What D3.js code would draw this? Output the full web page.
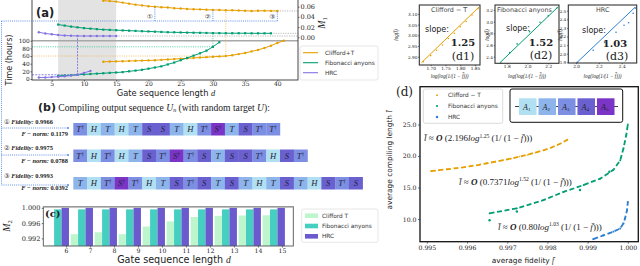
<!DOCTYPE html>
<html>
<head>
<meta charset="utf-8">
<script src="https://cdn.jsdelivr.net/npm/d3@7/dist/d3.min.js"></script>
<style>
  body { margin: 0; background: #fff; }
  svg { display: block; }
</style>
</head>
<body>
<div id="wrapper"></div>
<script>
// ---------------- data ----------------
// (a) M1 and compile time vs gate sequence length
const cliffordLen = d3.range(13, 42);
const cliffordTime = [45, 45.5, 46, 46.5, 47, 47.5, 48, 48.5, 49, 50, 51, 52, 53, 54, 55, 56, 57, 58, 59, 60, 62, 65, 68, 72, 76, 81, 87, 94, 100];
const cliffordM1Len = d3.range(13, 41);
const cliffordM1 = [0.0718, 0.071, 0.070, 0.068, 0.066, 0.064, 0.0625, 0.061, 0.060, 0.059, 0.0585, 0.057, 0.0565, 0.0555, 0.055, 0.0548, 0.054, 0.0537, 0.0535, 0.053, 0.053, 0.0525, 0.052, 0.0515, 0.052, 0.052, 0.0518, 0.0516];

const fibLen = d3.range(6, 32);
const fibTime = [8, 9, 10, 11, 12, 13, 14, 15, 16, 17, 18, 20, 22, 24, 27, 30, 33, 38, 43, 49, 55, 61, 67, 74, 84, 96];
const fibM1Len = d3.range(6, 40);
const fibM1 = [0.025, 0.023, 0.021, 0.0195, 0.018, 0.017, 0.016, 0.015, 0.0145, 0.014, 0.0135, 0.013, 0.0125, 0.012, 0.0115, 0.011, 0.0105, 0.010, 0.0098, 0.0095, 0.0092, 0.009, 0.0088, 0.0085, 0.0083, 0.0082, 0.008, 0.008, 0.008, 0.008, 0.0078, 0.0078, 0.0078, 0.0078];

const hrcLen = d3.range(3, 12);
const hrcTime = [4, 4, 5, 6, 7, 9, 11, 16, 21];
const hrcM1Len = d3.range(3, 16);
const hrcM1 = [0.0098, 0.0075, 0.006, 0.0045, 0.0035, 0.003, 0.0027, 0.0025, 0.0025, 0.0025, 0.0025, 0.0025, 0.0025];

const timeTicks = [0, 20, 40, 60, 80, 100];
const m1Ticks = [0, 0.02, 0.04, 0.06];
const lenTicksA = [5, 10, 15, 20, 25, 30, 35, 40];
const sampleLen = [21, 30, 40];
const sampleMark = ["\u2460", "\u2461", "\u2462"];

// (b) compiled gate sequences
const seq1 = ["T†", "H", "T", "H", "T", "S", "S", "T", "H", "T†", "S†", "T", "S", "T†", "T†"];
const seq2 = ["T†", "H", "T†", "H", "T", "S", "T†", "S†", "T†", "S", "T", "S", "S", "T†", "H", "S", "T†"];
const seq3 = ["T", "H", "T†", "S†", "T†", "H", "T", "S", "T†", "S", "T", "S", "T", "H", "T", "S", "T", "H", "S", "T†", "S"];
const fidelity = ["0.9966", "0.9975", "0.9993"];
const fnorm = ["0.1179", "0.0788", "0.0392"];

// (c) M2 per gate sequence length
const lenC = [6, 7, 8, 9, 10, 11, 12, 13, 14, 15];
const cliffordM2 = [0.9902, 0.9931, 0.9936, 0.9931, 0.9951, 0.99645, 0.9976, 0.9979, 0.998, 0.99805];
const fibM2 = [0.9996, 0.9996, 0.9996, 0.9996, 0.9996, 0.9996, 0.9996, 0.9996, 0.9996, 0.9996];
const hrcM2 = [1.0, 1.0, 1.0, 1.0, 1.0, 1.0, 1.0, 1.0, 1.0, 1.0];
const m2Ticks = [0.992, 0.996, 1.0];

// (d) average compiling length vs average fidelity
const cliffordF = [0.9951, 0.9953, 0.9955, 0.9957, 0.9959, 0.9961, 0.9963, 0.9965, 0.9967, 0.9969, 0.9971, 0.9973, 0.9975, 0.9977, 0.9979, 0.9981, 0.9983, 0.9985];
const cliffordL = [17.6, 17.75, 17.9, 18.05, 18.2, 18.4, 18.6, 18.85, 19.1, 19.35, 19.6, 19.9, 20.2, 20.55, 20.9, 21.35, 21.9, 22.6];
const fibF = [0.99656, 0.99724, 0.9979, 0.9984, 0.9989, 0.99931, 0.99964, 0.99981, 0.99989, 0.99996, 1.0];
const fibL = [10.9, 11.7, 13.0, 14.3, 15.4, 16.4, 17.8, 19.3, 21.2, 23.3, 25.0];
const fibDotF = [0.99656, 0.99724, 0.99881, 0.99954];
const fibDotL = [9.8, 11.2, 14.6, 17.5];
const hrcF = [0.99914, 0.99939, 0.99964, 0.99981, 0.99989, 0.99993, 0.99998, 1.0];
const hrcL = [6.8, 7.4, 8.0, 8.5, 9.3, 10.1, 11.4, 12.7];
const fidTicks = [0.995, 0.996, 0.997, 0.998, 0.999, 1.0];
const lenTicksD = [10, 15, 20, 25];
const gateLabels = ["A", "A", "A", "A", "A"];

// (d1)-(d3) log-log fits
const d1X = [1.675, 1.70, 1.72, 1.74, 1.76, 1.78, 1.80, 1.82, 1.84, 1.86];
const d1Y = [2.876, 2.905, 2.93, 2.955, 2.985, 3.01, 3.04, 3.065, 3.095, 3.125];
const d1Fit = [[1.669, 2.872], [1.864, 3.133]];
const d2X = [1.745, 1.83, 1.90, 2.02, 2.12, 2.20, 2.28];
const d2Y = [2.29, 2.47, 2.62, 2.83, 2.99, 3.10, 3.23];
const d2Fit = [[1.736, 2.30], [2.296, 3.257]];
const d3X = [2.01, 2.15, 2.25, 2.35, 2.42, 2.46, 2.50, 2.52];
const d3Y = [1.90, 2.04, 2.13, 2.25, 2.33, 2.36, 2.47, 2.53];
const d3Fit = [[2.006, 1.895], [2.517, 2.54]];

// ---------------- styles ----------------
const C = {
  orange: "#e69f00", green: "#009e73", purple: "#8273e3", blue: "#2d7fd1",
  link: "#4f86e6", cLight: "#bdf5cd", cTeal: "#45cfc1", cSlate: "#6a5acd"
};
const gateColor = { "H": "#b0e0f2", "T": "#8db5ec", "T†": "#7c8fe2", "S": "#6a60d0", "S†": "#7a34c6" };
const gateColorList = ["#b0e0f2", "#8db5ec", "#7c8fe2", "#6a60d0", "#7a34c6"];
const SANS = "'DejaVu Sans', sans-serif";
const SERIF = "'DejaVu Serif', serif";
const TIMES = "'Liberation Serif', serif";

const svg = d3.select("#wrapper").append("svg")
  .attr("width", 640).attr("height", 266)
  .attr("font-family", SERIF);

function styleAxis(g, size) {
  g.select(".domain").remove();
  g.selectAll(".tick line").attr("stroke", "#333").attr("stroke-width", 0.7);
  g.selectAll(".tick text").attr("font-family", SERIF).attr("font-size", size).attr("fill", "#222");
}

function marker(g, type, x, y, color, s) {
  if (type === "square") {
    g.append("rect").attr("x", x - s).attr("y", y - s).attr("width", 2 * s).attr("height", 2 * s).attr("fill", color);
  } else if (type === "triangle") {
    g.append("path").attr("d", `M${x},${y - s * 1.2}L${x + s},${y + s * 0.8}L${x - s},${y + s * 0.8}Z`).attr("fill", color);
  } else {
    g.append("circle").attr("cx", x).attr("cy", y).attr("r", s).attr("fill", color);
  }
}

// ---------------- panel (a) ----------------
const aBox = { left: 32, right: 298, top: -2, bottom: 80 };
const xA = d3.scaleLinear().domain([1.94, 43.2]).range([aBox.left, aBox.right]);
const yTime = d3.scaleLinear().domain([0, 100]).range([79, 40.7]);
const yM1 = d3.scaleLinear().domain([0, 0.06]).range([37.3, 6.7]);

const gA = svg.append("g");
gA.append("rect").attr("x", xA(6)).attr("y", aBox.top)
  .attr("width", xA(15) - xA(6)).attr("height", aBox.bottom - aBox.top)
  .attr("fill", "#e3e3e3");
gA.append("line").attr("x1", aBox.left).attr("x2", aBox.right)
  .attr("y1", yTime(100)).attr("y2", yTime(100))
  .attr("stroke", "#a8a8a8").attr("stroke-width", 1.6);

const seriesA = [
  { name: "Clifford+T", color: C.orange, len: cliffordLen, time: cliffordTime, m1Len: cliffordM1Len, m1: cliffordM1, pick: 32, mk: "circle", refColor: "#f2b54e", dash: "1,1.3" },
  { name: "Fibonacci anyons", color: C.green, len: fibLen, time: fibTime, m1Len: fibM1Len, m1: fibM1, pick: 30, mk: "square", refColor: "#2cc08d", dash: "1,1.3" },
  { name: "HRC", color: C.purple, len: hrcLen, time: hrcTime, m1Len: hrcM1Len, m1: hrcM1, pick: 9, mk: "circle", refColor: "#6f62de", dash: "2,1.2" }
];

seriesA.forEach(s => {
  const lastM = s.m1[s.m1.length - 1];
  const lastL = s.m1Len[s.m1Len.length - 1];
  gA.append("line").attr("x1", xA(lastL)).attr("x2", aBox.right)
    .attr("y1", yM1(lastM)).attr("y2", yM1(lastM))
    .attr("stroke", "#9a9a9a").attr("stroke-width", 0.7).attr("stroke-dasharray", "1.2,1.2");
  const tPick = s.time[s.len.indexOf(s.pick)];
  const mPick = s.m1[s.m1Len.indexOf(s.pick)];
  gA.append("path")
    .attr("d", `M${aBox.left},${yTime(tPick)}H${xA(s.pick)}V${yM1(mPick)}`)
    .attr("fill", "none").attr("stroke", s.refColor).attr("stroke-width", 0.8)
    .attr("stroke-dasharray", s.dash);
});

// blue dotted links to panel (b)
const linkPath = d3.path();
linkPath.moveTo(1.5, 21); linkPath.lineTo(xA(40), 21);
sampleLen.forEach(d => {
  linkPath.moveTo(xA(d), 21);
  linkPath.lineTo(xA(d), yM1(cliffordM1[cliffordM1Len.indexOf(d)]));
});
linkPath.moveTo(1.5, 21); linkPath.lineTo(1.5, 185);
[128, 155, 185].forEach(y => { linkPath.moveTo(1.5, y); linkPath.lineTo(67, y); });
svg.append("path").attr("d", linkPath.toString()).attr("fill", "none")
  .attr("stroke", C.link).attr("stroke-width", 0.9).attr("stroke-dasharray", "1,1.1");
[128, 155, 185].forEach(y => svg.append("circle").attr("cx", 68).attr("cy", y).attr("r", 1).attr("fill", C.link));
sampleLen.forEach((d, i) => {
  gA.append("text").attr("x", xA(d) - 5).attr("y", 19.2).attr("text-anchor", "middle")
    .attr("font-family", SANS).attr("font-size", 6.8).attr("fill", "#333").text(sampleMark[i]);
});

seriesA.forEach(s => {
  const tPts = s.len.map((d, i) => [d, s.time[i]]);
  const mPts = s.m1Len.map((d, i) => [d, s.m1[i]]);
  gA.append("path").datum(tPts).attr("fill", "none").attr("stroke", s.color).attr("stroke-width", 1)
    .attr("d", d3.line().x(d => xA(d[0])).y(d => yTime(d[1])));
  gA.append("path").datum(mPts).attr("fill", "none").attr("stroke", s.color).attr("stroke-width", 1)
    .attr("d", d3.line().x(d => xA(d[0])).y(d => yM1(d[1])));
  tPts.forEach(p => marker(gA, s.mk, xA(p[0]), yTime(p[1]), s.color, s.mk === "square" ? 1.1 : 1.2));
  mPts.forEach(p => marker(gA, s.mk, xA(p[0]), yM1(p[1]), s.color, s.mk === "square" ? 1.1 : 1.2));
});

gA.append("rect").attr("x", aBox.left).attr("y", aBox.top)
  .attr("width", aBox.right - aBox.left).attr("height", aBox.bottom - aBox.top)
  .attr("fill", "none").attr("stroke", "#333").attr("stroke-width", 0.9);

gA.append("g").attr("transform", `translate(0,${aBox.bottom})`)
  .call(d3.axisBottom(xA).tickValues(lenTicksA).tickSize(1.5).tickPadding(0.5))
  .call(styleAxis, 6);
gA.append("g").attr("transform", `translate(${aBox.left},0)`)
  .call(d3.axisLeft(yTime).tickValues(timeTicks).tickSize(1.5).tickPadding(0.8))
  .call(styleAxis, 5.8);
gA.append("g").attr("transform", `translate(${aBox.right},0)`)
  .call(d3.axisRight(yM1).tickValues(m1Ticks).tickFormat(d3.format(".2f")).tickSize(1.5).tickPadding(1))
  .call(styleAxis, 6.5);

gA.append("text").attr("x", 36).attr("y", 16.5).attr("font-family", SANS).attr("font-size", 11.5)
  .attr("font-weight", "bold").attr("fill", "#222").text("(a)");
const m1Lab = gA.append("text").attr("transform", "translate(325,23) rotate(-90)")
  .attr("text-anchor", "middle").attr("font-family", TIMES).attr("font-size", 10).attr("fill", "#222");
m1Lab.append("tspan").attr("font-style", "italic").text("M");
m1Lab.append("tspan").attr("font-size", 6.5).attr("dy", 2).text("1");
gA.append("text").attr("transform", "translate(12,60) rotate(-90)").attr("text-anchor", "middle")
  .attr("font-family", SANS).attr("font-size", 8).attr("fill", "#222").text("Time (hours)");
const xLabA = gA.append("text").attr("x", 166).attr("y", 95.5).attr("text-anchor", "middle")
  .attr("font-family", SANS).attr("font-size", 8.3).attr("fill", "#222");
xLabA.append("tspan").text("Gate sequence length ");
xLabA.append("tspan").attr("font-family", TIMES).attr("font-style", "italic").text("d");

// legend (a)
const legA = svg.append("g");
legA.append("rect").attr("x", 300).attr("y", 46).attr("width", 78).attr("height", 34).attr("rx", 2)
  .attr("fill", "#fff").attr("stroke", "#ddd").attr("stroke-width", 0.7);
seriesA.forEach((s, i) => {
  const y = 52.7 + i * 10;
  legA.append("line").attr("x1", 303).attr("x2", 318).attr("y1", y).attr("y2", y).attr("stroke", s.color).attr("stroke-width", 1.1);
  legA.append("text").attr("x", 325).attr("y", y + 2).attr("font-family", SANS).attr("font-size", 5.8).attr("fill", "#333").text(s.name);
});

// ---------------- panel (b) ----------------
const gB = svg.append("g");
const titleB = gB.append("text").attr("x", 38).attr("y", 110.5).attr("fill", "#222");
titleB.append("tspan").attr("font-family", SANS).attr("font-size", 11).attr("font-weight", "bold").text("(b)");
titleB.append("tspan").attr("font-family", TIMES).attr("font-size", 9.6).text(" Compiling output sequence ");
titleB.append("tspan").attr("font-family", TIMES).attr("font-size", 9.6).attr("font-style", "italic").text("U");
titleB.append("tspan").attr("font-family", TIMES).attr("font-size", 6).attr("font-style", "italic").attr("dy", 1.5).text("n");
titleB.append("tspan").attr("font-family", TIMES).attr("font-size", 9.6).attr("dy", -1.5).text(" (with random target ");
titleB.append("tspan").attr("font-family", TIMES).attr("font-size", 9.6).attr("font-style", "italic").text("U");
titleB.append("tspan").attr("font-family", TIMES).attr("font-size", 9.6).text("):");

const xGate = d3.scaleBand().domain(d3.range(21)).range([73.3, 362.7]);
const gateRowTop = [123, 149.5, 177];
const gateH = 12.5;
[seq1, seq2, seq3].forEach((seq, r) => {
  const row = gB.append("g");
  row.selectAll("rect").data(seq).join("rect")
    .attr("x", (d, i) => xGate(i)).attr("y", gateRowTop[r])
    .attr("width", xGate.bandwidth() + 0.2).attr("height", gateH)
    .attr("fill", d => gateColor[d]);
  seq.forEach((g, i) => {
    const t = row.append("text").attr("x", xGate(i) + xGate.bandwidth() / 2).attr("y", gateRowTop[r] + 9.2)
      .attr("text-anchor", "middle").attr("font-family", TIMES).attr("font-size", 8.6).attr("fill", "#24243a");
    t.append("tspan").attr("font-style", "italic").text(g[0]);
    if (g.length > 1) t.append("tspan").attr("font-size", 5.8).attr("dy", -3).text("†");
  });

  const fy = gateRowTop[r] + 0.5;
  const f = gB.append("text").attr("x", 4).attr("y", fy).attr("font-size", 6.4).attr("fill", "#222");
  f.append("tspan").attr("font-family", SANS).text(sampleMark[r]);
  f.append("tspan").attr("font-family", TIMES).attr("font-style", "italic").attr("font-weight", "bold").text(" Fidelity:");
  f.append("tspan").attr("font-family", TIMES).attr("font-weight", "bold").text(" " + fidelity[r]);
  const n = gB.append("text").attr("x", 68).attr("y", gateRowTop[r] + 13).attr("text-anchor", "end")
    .attr("font-size", 6.4).attr("fill", "#222").attr("font-family", TIMES).attr("font-weight", "bold");
  n.append("tspan").attr("font-style", "italic").text("F \u2212 norm:");
  n.append("tspan").text(" " + fnorm[r]);
});

// ---------------- panel (c) ----------------
const cBox = { left: 43.3, right: 293.3, top: 206.7, bottom: 246 };
const xC = d3.scaleLinear().domain([5.05, 15.47]).range([cBox.left, cBox.right]);
const yC = d3.scaleLinear().domain([0.990, 1.0003]).range([cBox.bottom, cBox.top]);
const gC = svg.append("g");
const barW = 0.31;
const seriesC = [
  { name: "Clifford   T", vals: cliffordM2, color: C.cLight, off: -0.81 },
  { name: "Fibonacci anyons", vals: fibM2, color: C.cTeal, off: -0.5 },
  { name: "HRC", vals: hrcM2, color: C.cSlate, off: -0.19 }
];
seriesC.forEach(s => {
  gC.selectAll(null).data(lenC).join("rect")
    .attr("x", (d) => xC(d + s.off))
    .attr("width", xC(barW) - xC(0))
    .attr("y", (d, i) => yC(s.vals[i]))
    .attr("height", (d, i) => cBox.bottom - yC(s.vals[i]))
    .attr("fill", s.color);
});
gC.append("rect").attr("x", cBox.left).attr("y", cBox.top)
  .attr("width", cBox.right - cBox.left).attr("height", cBox.bottom - cBox.top)
  .attr("fill", "none").attr("stroke", "#555").attr("stroke-width", 0.9);
gC.append("line").attr("x1", cBox.left).attr("x2", cBox.right).attr("y1", cBox.top).attr("y2", cBox.top)
  .attr("stroke", "#999").attr("stroke-width", 1.4);
gC.append("g").attr("transform", `translate(0,${cBox.bottom})`)
  .call(d3.axisBottom(xC).tickValues(lenC).tickSize(1.5).tickPadding(0.8))
  .call(styleAxis, 6.2);
gC.append("g").attr("transform", `translate(${cBox.left},0)`)
  .call(d3.axisLeft(yC).tickValues(m2Ticks).tickFormat(d3.format(".3f")).tickSize(1.5).tickPadding(1.5))
  .call(styleAxis, 6.5);
gC.append("text").attr("x", 45).attr("y", 217).attr("font-size", 10).attr("font-weight", "bold").attr("fill", "#222").text("(c)");
const m2Lab = gC.append("text").attr("transform", "translate(10,226) rotate(-90)")
  .attr("text-anchor", "middle").attr("font-family", TIMES).attr("font-size", 10).attr("fill", "#222");
m2Lab.append("tspan").attr("font-style", "italic").text("M");
m2Lab.append("tspan").attr("font-size", 6.5).attr("dy", 2).text("2");
const xLabC = gC.append("text").attr("x", 174).attr("y", 262.5).attr("text-anchor", "middle")
  .attr("font-family", SANS).attr("font-size", 9.6).attr("fill", "#222");
xLabC.append("tspan").text("Gate sequence length ");
xLabC.append("tspan").attr("font-family", TIMES).attr("font-style", "italic").text("d");

const legC = svg.append("g");
legC.append("rect").attr("x", 301.7).attr("y", 209).attr("width", 76.3).attr("height", 33.3).attr("rx", 2)
  .attr("fill", "#fff").attr("stroke", "#ddd").attr("stroke-width", 0.7);
seriesC.forEach((s, i) => {
  const y = 215.7 + i * 10.3;
  legC.append("rect").attr("x", 305).attr("y", y - 2.3).attr("width", 13).attr("height", 4.6).attr("fill", s.color);
  legC.append("text").attr("x", 322).attr("y", y + 2).attr("font-family", SANS).attr("font-size", 5.8).attr("fill", "#333").text(s.name);
});

// ---------------- panel (d) ----------------
const dBox = { left: 420, right: 638.3, top: 86.7, bottom: 241.7 };
const xD = d3.scaleLinear().domain([0.99483, 1.00026]).range([dBox.left, dBox.right]);
const yD = d3.scaleLinear().domain([6.4, 31]).range([dBox.bottom, dBox.top]);
const gD = svg.append("g");
const lineD = d3.line().x(d => xD(d[0])).y(d => yD(d[1]));

const seriesD = [
  { name: "Clifford \u2212 T", f: cliffordF, l: cliffordL, color: C.orange, mk: "triangle" },
  { name: "Fibonacci anyons", f: fibF, l: fibL, color: C.green, mk: "circle" },
  { name: "HRC", f: hrcF, l: hrcL, color: C.blue, mk: "square" }
];
seriesD.forEach(s => {
  const pts = s.f.map((f, i) => [f, s.l[i]]);
  gD.append("path").datum(pts).attr("d", lineD).attr("fill", "none")
    .attr("stroke", s.color).attr("stroke-width", 1.8).attr("stroke-dasharray", "5,2.6");
  pts.forEach(p => marker(gD, s.mk, xD(p[0]), yD(p[1]), s.color, 0.9));
});
fibDotF.forEach((f, i) => marker(gD, "circle", xD(f), yD(fibDotL[i]), C.green, 1.2));

gD.append("rect").attr("x", dBox.left).attr("y", dBox.top)
  .attr("width", dBox.right - dBox.left).attr("height", dBox.bottom - dBox.top)
  .attr("fill", "none").attr("stroke", "#111").attr("stroke-width", 1.3);
gD.append("g").attr("transform", `translate(0,${dBox.bottom})`)
  .call(d3.axisBottom(xD).tickValues(fidTicks).tickFormat(d3.format(".3f")).tickSize(2).tickPadding(1.5))
  .call(styleAxis, 6.2);
gD.append("g").attr("transform", `translate(${dBox.left},0)`)
  .call(d3.axisLeft(yD).tickValues(lenTicksD).tickFormat(d3.format(".1f")).tickSize(2).tickPadding(1.5))
  .call(styleAxis, 6.2);

gD.append("text").attr("x", 396).attr("y", 96).attr("font-size", 12).attr("fill", "#222").text("(d)");
const yLabD = gD.append("text").attr("transform", "translate(392,160) rotate(-90)").attr("text-anchor", "middle")
  .attr("font-family", SANS).attr("font-size", 7.4).attr("fill", "#222");
yLabD.append("tspan").text("average compiling length ");
yLabD.append("tspan").attr("font-family", TIMES).attr("font-style", "italic").text("l\u0304");
const xLabD = gD.append("text").attr("x", 523).attr("y", 263).attr("text-anchor", "middle")
  .attr("font-family", SANS).attr("font-size", 7.4).attr("fill", "#222");
xLabD.append("tspan").text("average fidelity ");
xLabD.append("tspan").attr("font-family", TIMES).attr("font-style", "italic").text("f\u0304");

// formula annotations
function formula(x, y, coef, pw) {
  const t = gD.append("text").attr("x", x).attr("y", y).attr("font-family", TIMES).attr("font-size", 9).attr("fill", "#222");
  t.append("tspan").attr("font-style", "italic").text("l\u0304");
  t.append("tspan").text(" \u2248 ");
  t.append("tspan").attr("font-style", "italic").attr("font-weight", "bold").text("O");
  t.append("tspan").text(" (" + coef);
  t.append("tspan").attr("font-style", "italic").text("log");
  t.append("tspan").attr("font-size", 5.6).attr("dy", -3.4).text(pw);
  t.append("tspan").attr("dy", 3.4).text(" (1/ (1 \u2212 ");
  t.append("tspan").attr("font-style", "italic").text("f\u0304");
  t.append("tspan").text(")))");
}
formula(424, 141, "2.196", "1.25");
formula(459, 184.5, "0.7371", "1.52");
formula(498, 229.5, "0.80", "1.03");

// legend (d)
const legD = svg.append("g");
legD.append("rect").attr("x", 423.3).attr("y", 89).attr("width", 79.4).attr("height", 34.3).attr("rx", 2)
  .attr("fill", "#fff").attr("stroke", "#ccc").attr("stroke-width", 0.7);
seriesD.forEach((s, i) => {
  const y = 95 + i * 11;
  marker(legD, s.mk, 437, y, s.color, 1.1);
  legD.append("text").attr("x", 448).attr("y", y + 2).attr("font-family", SANS).attr("font-size", 5.8).attr("fill", "#333").text(s.name);
});

// circuit legend
const gCirc = svg.append("g");
gCirc.append("rect").attr("x", 510).attr("y", 89).attr("width", 112.7).attr("height", 33.3).attr("rx", 2)
  .attr("fill", "#fff").attr("stroke", "#111").attr("stroke-width", 1);
gCirc.append("line").attr("x1", 515).attr("x2", 618).attr("y1", 106.5).attr("y2", 106.5).attr("stroke", "#111").attr("stroke-width", 0.8);
const xA5 = d3.scaleBand().domain(d3.range(5)).range([519, 614.5]).paddingInner(0.1);
gCirc.selectAll("rect.g").data(gateLabels).join("rect").attr("class", "g")
  .attr("x", (d, i) => xA5(i)).attr("y", 98.3).attr("width", xA5.bandwidth()).attr("height", 16.7)
  .attr("fill", (d, i) => gateColorList[i]);
gateLabels.forEach((d, i) => {
  const t = gCirc.append("text").attr("x", xA5(i) + xA5.bandwidth() / 2 - 1).attr("y", 109.5)
    .attr("text-anchor", "middle").attr("font-family", TIMES).attr("font-size", 8).attr("fill", "#222");
  t.append("tspan").attr("font-style", "italic").text(d);
  t.append("tspan").attr("font-size", 5).attr("dy", 1.5).text(String(i + 1));
});

// ---------------- insets (d1)-(d3) ----------------
function drawInset(c) {
  const g = svg.append("g");
  const x = d3.scaleLinear().domain(c.xDom).range([c.x0, c.x1]);
  const y = d3.scaleLinear().domain(c.yDom).range([c.y1, c.y0]);
  g.append("path").datum(c.fit).attr("fill", "none").attr("stroke", c.color).attr("stroke-width", 1)
    .attr("d", d3.line().x(d => x(d[0])).y(d => y(d[1])));
  c.px.forEach((v, i) => g.append("circle").attr("cx", x(v)).attr("cy", y(c.py[i])).attr("r", 0.8).attr("fill", c.color));
  g.append("rect").attr("x", c.x0).attr("y", c.y0).attr("width", c.x1 - c.x0).attr("height", c.y1 - c.y0)
    .attr("fill", "none").attr("stroke", "#333").attr("stroke-width", 1.1);
  g.append("g").attr("transform", `translate(0,${c.y1})`)
    .call(d3.axisBottom(x).tickValues(c.xTicks).tickFormat(d3.format(c.xFmt)).tickSize(1.2).tickPadding(0.5))
    .call(styleAxis, 4.3);
  g.append("g").attr("transform", `translate(${c.x0},0)`)
    .call(d3.axisLeft(y).tickValues(c.yTicks).tickFormat(d3.format(c.yFmt)).tickSize(1.2).tickPadding(0.8))
    .call(styleAxis, 4.2);
  const xl = g.append("text").attr("x", (c.x0 + c.x1) / 2).attr("y", 77.5).attr("text-anchor", "middle")
    .attr("font-family", TIMES).attr("font-style", "italic").attr("font-size", 5.2).attr("fill", "#222");
  xl.text("log(log(1/(1 \u2212 f\u0304)))");
  g.append("text").attr("transform", `translate(${c.labX},35) rotate(-90)`).attr("text-anchor", "middle")
    .attr("font-family", TIMES).attr("font-style", "italic").attr("font-size", 5.2).attr("fill", "#222").text("log(l\u0304)");
  g.append("text").attr("x", c.title[0]).attr("y", 12).attr("font-family", SANS).attr("font-size", 6.4).attr("fill", "#444").text(c.title[1]);
  g.append("text").attr("x", c.slope[0]).attr("y", c.slope[1]).attr("font-family", SANS).attr("font-size", 8).attr("fill", "#222").text("slope:");
  g.append("text").attr("x", c.val[0]).attr("y", c.val[1]).attr("text-anchor", "middle").attr("font-size", 10).attr("font-weight", "bold").attr("fill", "#222").text(c.val[2]);
  g.append("text").attr("x", c.tag[0]).attr("y", c.tag[1]).attr("text-anchor", "middle").attr("font-size", 11).attr("fill", "#222").text(c.tag[2]);
}
drawInset({ x0: 419.3, x1: 480, y0: 5, y1: 65, xDom: [1.6614, 1.867], yDom: [2.861, 3.142],
  xTicks: [1.70, 1.75, 1.80, 1.85], yTicks: [2.90, 2.95, 3.00, 3.05, 3.10], xFmt: ".2f", yFmt: ".2f",
  fit: d1Fit, px: d1X, py: d1Y, color: C.orange, labX: 398,
  title: [431, "Clifford \u2212 T"], slope: [425, 32], val: [463, 46, "1.25"], tag: [463, 60, "(d1)"] });
drawInset({ x0: 495, x1: 559, y0: 5, y1: 63.3, xDom: [1.6875, 2.303], yDom: [2.288, 3.286],
  xTicks: [1.8, 2.0, 2.2], yTicks: [2.4, 2.6, 2.8, 3.0, 3.2], xFmt: ".1f", yFmt: ".1f",
  fit: d2Fit, px: d2X, py: d2Y, color: C.green, labX: 489,
  title: [497, "Fibonacci anyons"], slope: [506, 31], val: [541, 46, "1.52"], tag: [541, 59, "(d2)"] });
drawInset({ x0: 568.3, x1: 636.7, y0: 5, y1: 63, xDom: [1.932, 2.531], yDom: [1.892, 2.566],
  xTicks: [2.0, 2.2, 2.4], yTicks: [1.9, 2.0, 2.1, 2.2, 2.3, 2.4, 2.5], xFmt: ".1f", yFmt: ".1f",
  fit: d3Fit, px: d3X, py: d3Y, color: C.blue, labX: 562,
  title: [596, "HRC"], slope: [582, 33], val: [615, 47, "1.03"], tag: [617, 60, "(d3)"] });
</script>
</body>
</html>
